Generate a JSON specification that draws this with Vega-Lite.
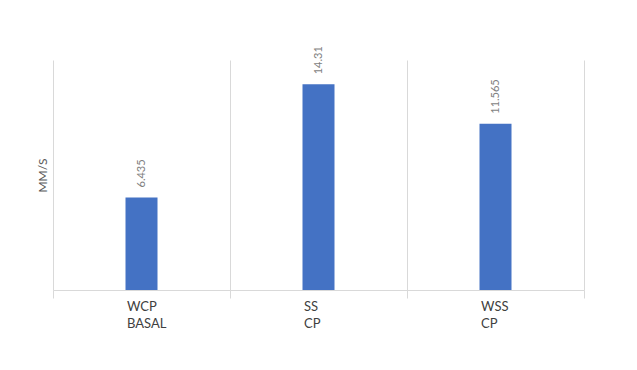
{
  "$schema": "https://vega.github.io/schema/vega-lite/v6.json",
  "width": 531,
  "height": 230,
  "autosize": {"type": "none"},
  "padding": {"left": 53, "top": 60, "right": 53, "bottom": 80},
  "background": "white",
  "config": {"view": {"stroke": null}, "font": "Lato"},
  "data": {
    "values": [
      {"cat": "WCP|BASAL", "value": 6.435, "label": "6.435"},
      {"cat": "SS|CP", "value": 14.31, "label": "14.31"},
      {"cat": "WSS|CP", "value": 11.565, "label": "11.565"}
    ]
  },
  "encoding": {
    "x": {
      "field": "cat",
      "type": "nominal",
      "sort": null,
      "scale": {"paddingInner": 0, "paddingOuter": 0},
      "axis": {
        "title": null,
        "labelAngle": 0,
        "labelExpr": "split(datum.label, '|')",
        "labelAlign": "left",
        "labelBaseline": "top",
        "labelOffset": -15,
        "labelPadding": 2,
        "labelLineHeight": 17,
        "labelFontSize": 13,
        "labelColor": "#404040",
        "labelFont": "Lato",
        "tickBand": "extent",
        "grid": true,
        "gridColor": "#d9d9d9",
        "gridWidth": 1,
        "ticks": true,
        "tickSize": 8,
        "tickColor": "#d9d9d9",
        "domainColor": "#d9d9d9",
        "domainWidth": 1
      }
    },
    "y": {
      "field": "value",
      "type": "quantitative",
      "scale": {"domain": [0, 16]},
      "axis": {
        "title": "MM/S",
        "titleFont": "Lato",
        "titleFontSize": 12,
        "titleFontWeight": "normal",
        "titleColor": "#595959",
        "titlePadding": 4,
        "labels": false,
        "ticks": false,
        "domain": false,
        "grid": false
      }
    }
  },
  "layer": [
    {"mark": {"type": "bar", "size": 32, "color": "#4472C4"}},
    {
      "mark": {
        "type": "text",
        "angle": -90,
        "align": "left",
        "baseline": "middle",
        "dx": 10,
        "fontSize": 11,
        "color": "#7f7f7f",
        "font": "Lato"
      },
      "encoding": {"text": {"field": "label"}}
    }
  ]
}
